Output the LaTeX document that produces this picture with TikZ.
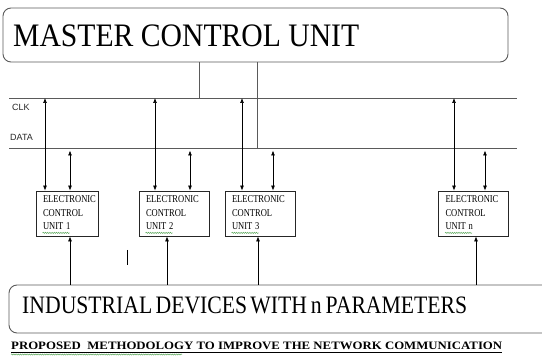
\documentclass[tikz,border=0pt]{standalone}
\usepackage{graphicx}
\usepackage{fontspec}
\setmainfont{Liberation Serif}
\newfontfamily\lblfont{Liberation Sans}
\usetikzlibrary{arrows.meta,decorations.pathmorphing}
\definecolor{linegray}{HTML}{5A5A5A}
\definecolor{spellgreen}{HTML}{5DA85D}
\newcommand\ecutext[1]{\scalebox{0.81}[1]{\begin{tabular}{@{}l@{}}ELECTRONIC\\CONTROL\\UNIT #1\end{tabular}}}
\begin{document}
\begin{tikzpicture}[x=1pt,y=-1pt,
  bus/.style={draw=linegray, line width=0.9pt},
  dbl/.style={draw=black, line width=0.7pt, {Latex[length=5pt,width=4pt]}-{Latex[length=5pt,width=4pt]}},
  uarr/.style={draw=black, line width=0.7pt, -{Latex[length=5pt,width=4pt]}},
  ecu/.style={draw=black!85, line width=0.8pt, minimum height=45pt, inner xsep=7pt, inner ysep=0pt, text width=56pt, align=left, font=\fontsize{10.5}{13.5}\selectfont},
  panel/.style={draw=linegray, line width=0.9pt, rounded corners=8pt, inner sep=0pt},
  wavy/.style={draw=spellgreen, line width=0.5pt, decorate, decoration={snake, segment length=2.2pt, amplitude=0.6pt}},
  lbl/.style={font=\lblfont\fontsize{9}{10}\selectfont, inner sep=0pt, anchor=base west, text=black!85},
  bigtxt/.style={anchor=base west, inner sep=0pt}
]
\useasboundingbox (0,0) rectangle (542,358);
\clip (0,0) rectangle (542,358);

% master control unit
\node[panel, minimum width=505pt, minimum height=54pt] (mcu) at (255.5,35) {};
\node[bigtxt] (mcutxt) at (13,46.5) {\resizebox{346pt}{21.7pt}{MASTER CONTROL UNIT}};

% buses
\coordinate (clkL) at (9,98);
\coordinate (clkR) at (517,98);
\coordinate (datL) at (9,148);
\coordinate (datR) at (517,148);
\coordinate (dtop) at (0,150.5);
\draw[bus] (clkL) -- (clkR);
\draw[bus] (datL) -- (datR);
\draw[bus] (199,0 |- mcu.south) -- (199,0 |- clkL);
\draw[bus] (257,0 |- mcu.south) -- (257,0 |- datL);

\node[lbl] (clklbl) at (12,110.3) {CLK};
\node[lbl] (datlbl) at (10,141) {DATA};

% ECUs
\node[ecu, text width=48pt] (e1) at (67,213.5) {\ecutext{1}};
\node[ecu] (e2) at (174,213.5) {\ecutext{2}};
\node[ecu] (e3) at (260,213.5) {\ecutext{3}};
\node[ecu] (en) at (473.5,213.5) {\ecutext{n}};

\draw[wavy] ([xshift=7pt,yshift=3.5pt]e1.south west) -- ++(27,0);
\draw[wavy] ([xshift=7pt,yshift=3.5pt]e2.south west) -- ++(27,0);
\draw[wavy] ([xshift=7pt,yshift=3.5pt]e3.south west) -- ++(27,0);
\draw[wavy] ([xshift=7pt,yshift=3.5pt]en.south west) -- ++(27,0);

% industrial devices
\node[panel, minimum width=551pt, minimum height=48pt] (ind) at (284.5,309) {};
\node[bigtxt] (indtxt) at (22,313.3) {\resizebox{445pt}{16.6pt}{INDUSTRIAL\hspace{.15em}DEVICES\hspace{.15em}WITH\hspace{.18em}n\hspace{.18em}PARAMETERS}};

% bus arrows
\draw[dbl] (45,0 |- clkL) -- (45,0 |- e1.north);
\draw[dbl] (70,0 |- dtop) -- (70,0 |- e1.north);
\draw[dbl] (155,0 |- clkL) -- (155,0 |- e2.north);
\draw[dbl] (190,0 |- dtop) -- (190,0 |- e2.north);
\draw[dbl] (242,0 |- clkL) -- (242,0 |- e3.north);
\draw[dbl] (273,0 |- dtop) -- (273,0 |- e3.north);
\draw[dbl] (454,0 |- clkL) -- (454,0 |- en.north);
\draw[dbl] (485,0 |- dtop) -- (485,0 |- en.north);

% device arrows
\draw[uarr] (70,0 |- ind.north) -- (70,0 |- e1.south);
\draw[uarr] (167,0 |- ind.north) -- (167,0 |- e2.south);
\draw[uarr] (258,0 |- ind.north) -- (258,0 |- e3.south);
\draw[uarr] (476,0 |- ind.north) -- (476,0 |- en.south);

% text cursor
\draw[line width=1.5pt] (127.5,250) -- (127.5,265);

% caption
\node[bigtxt] (cap) at (11,350) {\resizebox{491pt}{7.5pt}{\bfseries PROPOSED\ \ METHODOLOGY TO IMPROVE THE NETWORK COMMUNICATION}};
\draw[line width=1.1pt] ([yshift=-2.3pt]cap.base west) -- ([yshift=-2.3pt]cap.base east);
\draw[wavy] (11,354.5) -- (182,354.5);
\end{tikzpicture}
\end{document}
